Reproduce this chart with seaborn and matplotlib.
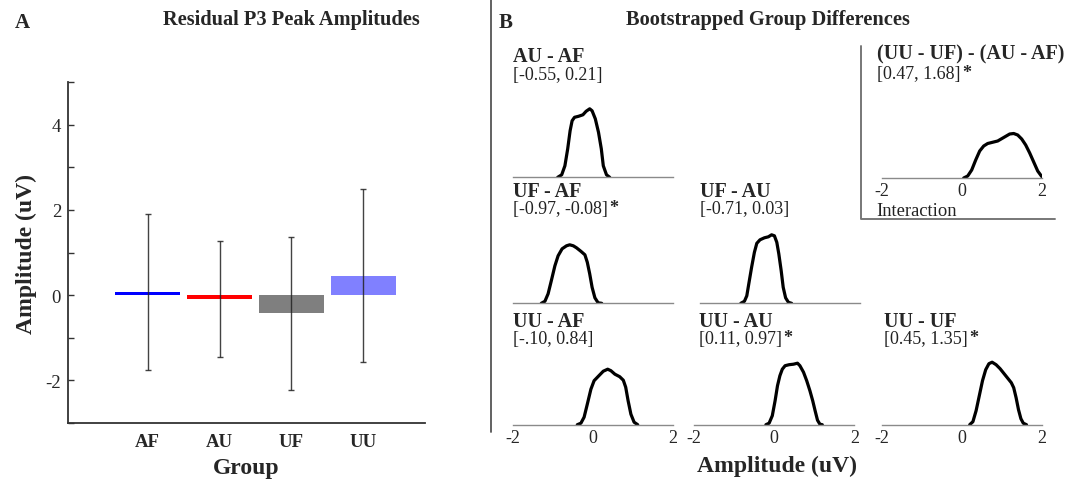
import numpy as np
import pandas as pd
import matplotlib
matplotlib.use("Agg")
import matplotlib.pyplot as plt
from matplotlib.lines import Line2D
import seaborn as sns

# ---------------- data ----------------
groups = ["AF", "AU", "UF", "UU"]
means = [0.08, -0.09, -0.43, 0.46]
sds = [1.83, 1.36, 1.79, 2.02]
bar_colors = ["#0000FF", "#FF0000", "#7F7F7F", "#8080FF"]

# bootstrapped difference densities (x = amplitude difference, y = density)
au_af_x = [-0.87, -0.77, -0.69, -0.62, -0.56, -0.51, -0.45, -0.35, -0.24, -0.16, -0.07, -0.01, 0.07, 0.15, 0.22, 0.27, 0.35, 0.43]
au_af_y = [0, 0.05, 0.23, 0.57, 0.93, 1.13, 1.20, 1.22, 1.25, 1.32, 1.37, 1.33, 1.17, 0.90, 0.57, 0.23, 0.05, 0]

uf_af_x = [-1.28, -1.19, -1.11, -1.03, -0.94, -0.86, -0.76, -0.65, -0.57, -0.48, -0.40, -0.29, -0.19, -0.13, -0.07, -0.01, 0.06, 0.14, 0.23]
uf_af_y = [0, 0.04, 0.19, 0.45, 0.75, 0.95, 1.09, 1.15, 1.17, 1.15, 1.11, 1.04, 0.97, 0.82, 0.59, 0.32, 0.11, 0.01, 0]

uf_au_x = [-0.98, -0.89, -0.83, -0.78, -0.71, -0.64, -0.58, -0.50, -0.39, -0.29, -0.21, -0.14, -0.08, -0.03, 0.03, 0.08, 0.14, 0.21, 0.29]
uf_au_y = [0, 0.04, 0.15, 0.39, 0.72, 1.02, 1.20, 1.27, 1.31, 1.33, 1.37, 1.35, 1.22, 0.99, 0.65, 0.32, 0.11, 0.02, 0]

uu_af_x = [-0.38, -0.29, -0.21, -0.13, -0.04, 0.04, 0.16, 0.27, 0.38, 0.46, 0.56, 0.68, 0.77, 0.83, 0.89, 0.96, 1.04, 1.13]
uu_af_y = [0, 0.03, 0.15, 0.41, 0.71, 0.88, 0.98, 1.07, 1.11, 1.08, 1.01, 0.96, 0.89, 0.75, 0.48, 0.21, 0.05, 0]

uu_au_x = [-0.21, -0.13, -0.05, 0.02, 0.08, 0.14, 0.20, 0.27, 0.37, 0.48, 0.58, 0.64, 0.73, 0.81, 0.89, 0.96, 1.02, 1.08, 1.14, 1.20]
uu_au_y = [0, 0.03, 0.18, 0.48, 0.78, 0.98, 1.11, 1.18, 1.20, 1.21, 1.23, 1.18, 1.05, 0.88, 0.68, 0.48, 0.28, 0.09, 0.01, 0]

uu_uf_x = [0.20, 0.28, 0.36, 0.44, 0.52, 0.60, 0.68, 0.76, 0.86, 0.96, 1.06, 1.16, 1.24, 1.30, 1.36, 1.42, 1.48, 1.54, 1.62]
uu_uf_y = [0, 0.06, 0.28, 0.58, 0.88, 1.10, 1.22, 1.25, 1.20, 1.12, 1.02, 0.92, 0.84, 0.74, 0.54, 0.30, 0.12, 0.03, 0]

inter_x = [0.05, 0.15, 0.25, 0.35, 0.45, 0.55, 0.65, 0.75, 0.90, 1.05, 1.20, 1.30, 1.40, 1.50, 1.60, 1.70, 1.80, 1.90, 2.00]
inter_y = [0, 0.04, 0.16, 0.36, 0.54, 0.64, 0.69, 0.71, 0.74, 0.81, 0.88, 0.89, 0.86, 0.78, 0.66, 0.50, 0.32, 0.14, 0.03]

names = ["AU - AF", "UF - AF", "UF - AU", "UU - AF", "UU - AU", "UU - UF", "(UU - UF) - (AU - AF)"]
cis = ["[-0.55, 0.21]", "[-0.97, -0.08]", "[-0.71, 0.03]", "[-.10, 0.84]", "[0.11, 0.97]", "[0.45, 1.35]", "[0.47, 1.68]"]
signif = [False, True, False, False, True, True, True]
curves_x = [au_af_x, uf_af_x, uf_au_x, uu_af_x, uu_au_x, uu_uf_x, inter_x]
curves_y = [au_af_y, uf_af_y, uf_au_y, uu_af_y, uu_au_y, uu_uf_y, inter_y]

# ---------------- style ----------------
sns.set_style("white")
plt.rcParams["font.family"] = ["Liberation Serif", "DejaVu Serif"]
plt.rcParams["axes.unicode_minus"] = False

W, H = 1085, 485
fig = plt.figure(figsize=(W / 100, H / 100), dpi=100)


def fx(px):
    return px / W


def fy(py):
    return 1 - py / H


# ---------------- panel A ----------------
axA = fig.add_axes([fx(68), fy(424), 357 / W, 341 / H])
dfA = pd.DataFrame({"group": groups, "value": means})
sns.barplot(data=dfA, x="group", y="value", hue="group", palette=bar_colors,
            saturation=1, width=0.9, legend=False, ax=axA, linewidth=0)
axA.errorbar(x=np.arange(len(groups)), y=means, yerr=sds, fmt="none",
             ecolor="#222222", elinewidth=1.0, capsize=2.3, capthick=1.0, alpha=0.85)
axA.set_xlim(-1.11, 3.86)
axA.set_ylim(-3, 5)
axA.set_yticks([-2, 0, 2, 4])
axA.set_yticks([-3, -1, 1, 3, 5], minor=True)
axA.tick_params(axis="y", which="both", direction="in", length=4, width=1,
                color="#333333", labelsize=13.5, pad=5, left=True)
axA.tick_params(axis="x", length=0, pad=7)
for lab in axA.get_xticklabels():
    lab.set_fontweight("bold")
    lab.set_fontsize(13.5)
for s in ["top", "right"]:
    axA.spines[s].set_visible(False)
for s in ["left", "bottom"]:
    axA.spines[s].set_color("#333333")
    axA.spines[s].set_linewidth(1.3)
axA.set_xlabel("Group", fontsize=17, fontweight="bold", labelpad=5)
axA.set_ylabel("Amplitude (uV)", fontsize=17, fontweight="bold", labelpad=6)

fig.text(fx(15), fy(28), "A", fontsize=15, fontweight="bold", va="baseline")
fig.text(fx(291), fy(25), "Residual P3 Peak Amplitudes", fontsize=14.7,
         fontweight="bold", ha="center", va="baseline")

# ---------------- panel B ----------------
fig.text(fx(499), fy(28), "B", fontsize=15, fontweight="bold", va="baseline")
fig.text(fx(768), fy(25), "Bootstrapped Group Differences", fontsize=14.7,
         fontweight="bold", ha="center", va="baseline")

# layout: (axis left px, baseline px, show tick labels, text x px, name baseline px, ci baseline px)
layout = [
    (512.5, 178.3, False, 513, 62, 80),
    (512.5, 304.3, False, 513, 197, 214),
    (700.0, 304.3, False, 700, 197, 214),
    (512.5, 425.7, True, 513, 327, 344),
    (694.3, 425.7, True, 699, 327, 344),
    (881.7, 425.7, True, 884, 327, 344),
    (881.7, 179.0, True, 877, 59, 79),
]

AX_H = 90  # px
for i, (x0, base, show, tx, ny, cy) in enumerate(layout):
    ax = fig.add_axes([fx(x0), fy(base), 160 / W, AX_H / H])
    sns.lineplot(x=curves_x[i], y=curves_y[i], ax=ax, color="black",
                 linewidth=2.3, sort=False, estimator=None)
    ax.set_xlim(-2, 2)
    ax.set_ylim(0, AX_H / 50)
    ax.patch.set_alpha(0)
    for s in ["top", "right", "left"]:
        ax.spines[s].set_visible(False)
    ax.spines["bottom"].set_color("#8a8a8a")
    ax.spines["bottom"].set_linewidth(1.0)
    ax.set_yticks([])
    ax.set_xticks([-2, 0, 2])
    ax.set_xticks(np.arange(-2, 2.01, 0.5), minor=True)
    ax.tick_params(axis="x", which="both", direction="in", length=2.2, width=0.8,
                   color="#8a8a8a", labelsize=13, pad=3, labelbottom=show)
    ax.set_xlabel("")
    ax.set_ylabel("")
    fig.text(fx(tx), fy(ny), names[i], fontsize=14.5, fontweight="bold",
             va="baseline", ha="left")
    t = fig.text(fx(tx), fy(cy), cis[i], fontsize=13, va="baseline", ha="left",
                 color="#222222")
    if signif[i]:
        ax.annotate("*", xy=(1.0, 1.0), xycoords=t, xytext=(1, 1),
                    textcoords="offset points", ha="left", va="top",
                    fontsize=13, fontweight="bold", annotation_clip=False)

fig.text(fx(876), fy(216), "Interaction", fontsize=13.3, va="baseline", color="#222222")
fig.text(fx(777), fy(466), "Amplitude (uV)", fontsize=17, fontweight="bold",
         ha="center", va="center")

# separator and interaction frame
fig.add_artist(Line2D([fx(491), fx(491)], [fy(0), fy(433)], transform=fig.transFigure,
                      color="#555555", linewidth=1.3))
fig.add_artist(Line2D([fx(861), fx(861), fx(1055)], [fy(47), fy(220), fy(220)],
                      transform=fig.transFigure, color="#777777", linewidth=1.4))

fig.savefig("out.png", dpi=100)
